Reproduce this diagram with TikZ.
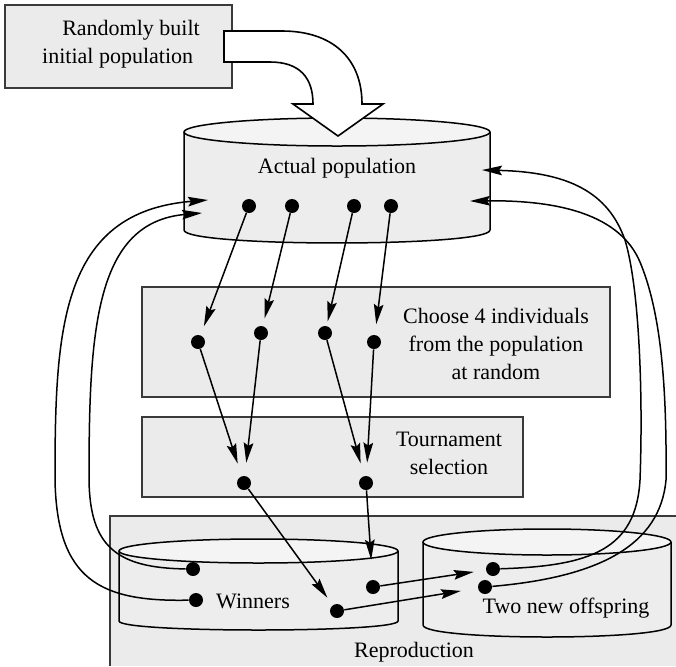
\documentclass[tikz,border=0pt]{standalone}
\usepackage{fontspec}
\setmainfont{Liberation Serif}
\usetikzlibrary{arrows.meta}
\definecolor{panel}{HTML}{EBEBEB}
\definecolor{cyl}{HTML}{EDEDED}
\definecolor{cyltop}{HTML}{F4F4F4}
\definecolor{edge}{HTML}{3A3A3A}
\begin{document}
\begin{tikzpicture}[x=0.5pt,y=-0.5pt,
  boxfill/.style={fill=panel, draw=edge, line width=0.9pt},
  rim/.style={draw=black, line width=0.75pt},
  label/.style={font=\fontsize{11}{14}\selectfont, inner sep=0pt, align=center},
  dot/.style={circle, fill=black, inner sep=0pt, minimum size=7pt},
  tip/.style={-{Stealth[length=10pt,width=4.8pt,inset=1.5pt]}},
  link/.style={line width=0.75pt, tip, shorten >=5pt},
  ret/.style={line width=0.75pt, tip}
]
\useasboundingbox (0,0) rectangle (676,666);

% reproduction panel (runs off the right and bottom edges)
\fill[panel] (110,516) rectangle (676,666);
\draw[edge, line width=0.9pt] (110,666) -- (110,516) -- (676,516);

% process boxes
\draw[boxfill] (5,5) rectangle (232,88);
\draw[boxfill] (142,287) rectangle (610,397);
\draw[boxfill] (142,417) rectangle (523,497);

% actual population cylinder
\fill[cyl] (184,132) -- (184,230) .. controls (184,247.3) and (490,247.3) .. (490,230) -- (490,132) -- cycle;
\draw[rim] (184,132) -- (184,230) .. controls (184,247.3) and (490,247.3) .. (490,230) -- (490,132);
\draw[rim, fill=cyltop] (337,132) ellipse [x radius=153, y radius=14];

% winners cylinder
\fill[cyl] (119,551) -- (119,621) .. controls (119,633) and (398,633) .. (398,621) -- (398,551) -- cycle;
\draw[rim] (119,551) -- (119,621) .. controls (119,633) and (398,633) .. (398,621) -- (398,551);
\draw[rim, fill=cyltop] (258.5,551) ellipse [x radius=139.5, y radius=12];

% offspring cylinder
\fill[cyl] (423,542) -- (423,625) .. controls (423,641) and (671,641) .. (671,625) -- (671,542) -- cycle;
\draw[rim] (423,542) -- (423,625) .. controls (423,641) and (671,641) .. (671,625) -- (671,542);
\draw[rim, fill=cyltop] (547,542) ellipse [x radius=124, y radius=13];

% wide bent arrow feeding the population
\draw[fill=white, line width=0.8pt, line join=miter]
  (224,31) -- (282,31) .. controls (332,31) and (362,58) .. (362,104)
  -- (383,104) -- (338,136) -- (293,104) -- (313,104)
  .. controls (313,78) and (300,62) .. (270,62) -- (224,62) -- cycle;

% texts
\node[label, align=left] (init) at (121,44) {\hspace{10pt}Randomly built\\initial population};
\node[label] (actual) at (337,168) {Actual population};
\node[label] (choose) at (496,344) {Choose 4 individuals\\from the population\\at random};
\node[label] (tourn) at (449,453) {Tournament\\selection};
\node[label] (winners) at (253,601) {Winners};
\node[label] (offspring) at (566,608) {Two new offspring};
\node[label] (repro) at (414,652) {Reproduction};

% individuals
\node[dot] (a1) at (249,206) {};
\node[dot] (a2) at (292,206) {};
\node[dot] (a3) at (354,206) {};
\node[dot] (a4) at (391,206) {};
\node[dot] (c1) at (198,342) {};
\node[dot] (c2) at (261,333) {};
\node[dot] (c3) at (325,333) {};
\node[dot] (c4) at (374,342) {};
\node[dot] (t1) at (244,483) {};
\node[dot] (t2) at (366,483) {};
\node[dot] (w1) at (193,569) {};
\node[dot] (w2) at (196,600) {};
\node[dot] (w3) at (373,587) {};
\node[dot] (w4) at (337,611) {};
\node[dot] (o1) at (493,569) {};
\node[dot] (o2) at (485,587) {};

% random choice
\draw[link, shorten >=4.75pt] (a1) -- (c1);
\draw[link, shorten >=3.75pt] (a2) -- (c2);
\draw[link, shorten >=2.25pt] (a3) -- (c3);
\draw[link, shorten >=5.25pt] (a4) -- (c4);

% tournament
\draw[link, shorten >=6.5pt] (c1) -- (t1);
\draw[link, shorten >=6.5pt] (c2) -- (t1);
\draw[link, shorten >=6.5pt] (c3) -- (t2);
\draw[link, shorten >=6.5pt] (c4) -- (t2);

% winners and offspring
\draw[link, shorten >=4.5pt] (t1) -- (w4);
\draw[link, shorten >=10pt] (t2) -- (w3);
\draw[link, shorten >=6pt] (w3) -- (o1);
\draw[link, shorten >=8.5pt] (w4) -- (o2);

% return paths into the population
\coordinate (inL1) at (208,200);
\coordinate (inL2) at (202,213);
\coordinate (inR1) at (482,170);
\coordinate (inR2) at (470,201);

\draw[ret] (w2) .. controls (100,602) and (57,580) .. (55,480)
  .. controls (55,330) and (60,212) .. (inL1);
\draw[ret] (w1) .. controls (115,568) and (90,545) .. (89,480)
  .. controls (89,330) and (95,222) .. (inL2);
\draw[ret] (o1) .. controls (590,566) and (636,550) .. (640,480)
  .. controls (643,400) and (640,290) .. (625,240)
  .. controls (608,192) and (568,172) .. (inR1);
\draw[ret] (o2) .. controls (600,577) and (660,545) .. (666,480)
  .. controls (667,380) and (660,310) .. (640,262)
  .. controls (620,215) and (560,200) .. (inR2);
\end{tikzpicture}
\end{document}
